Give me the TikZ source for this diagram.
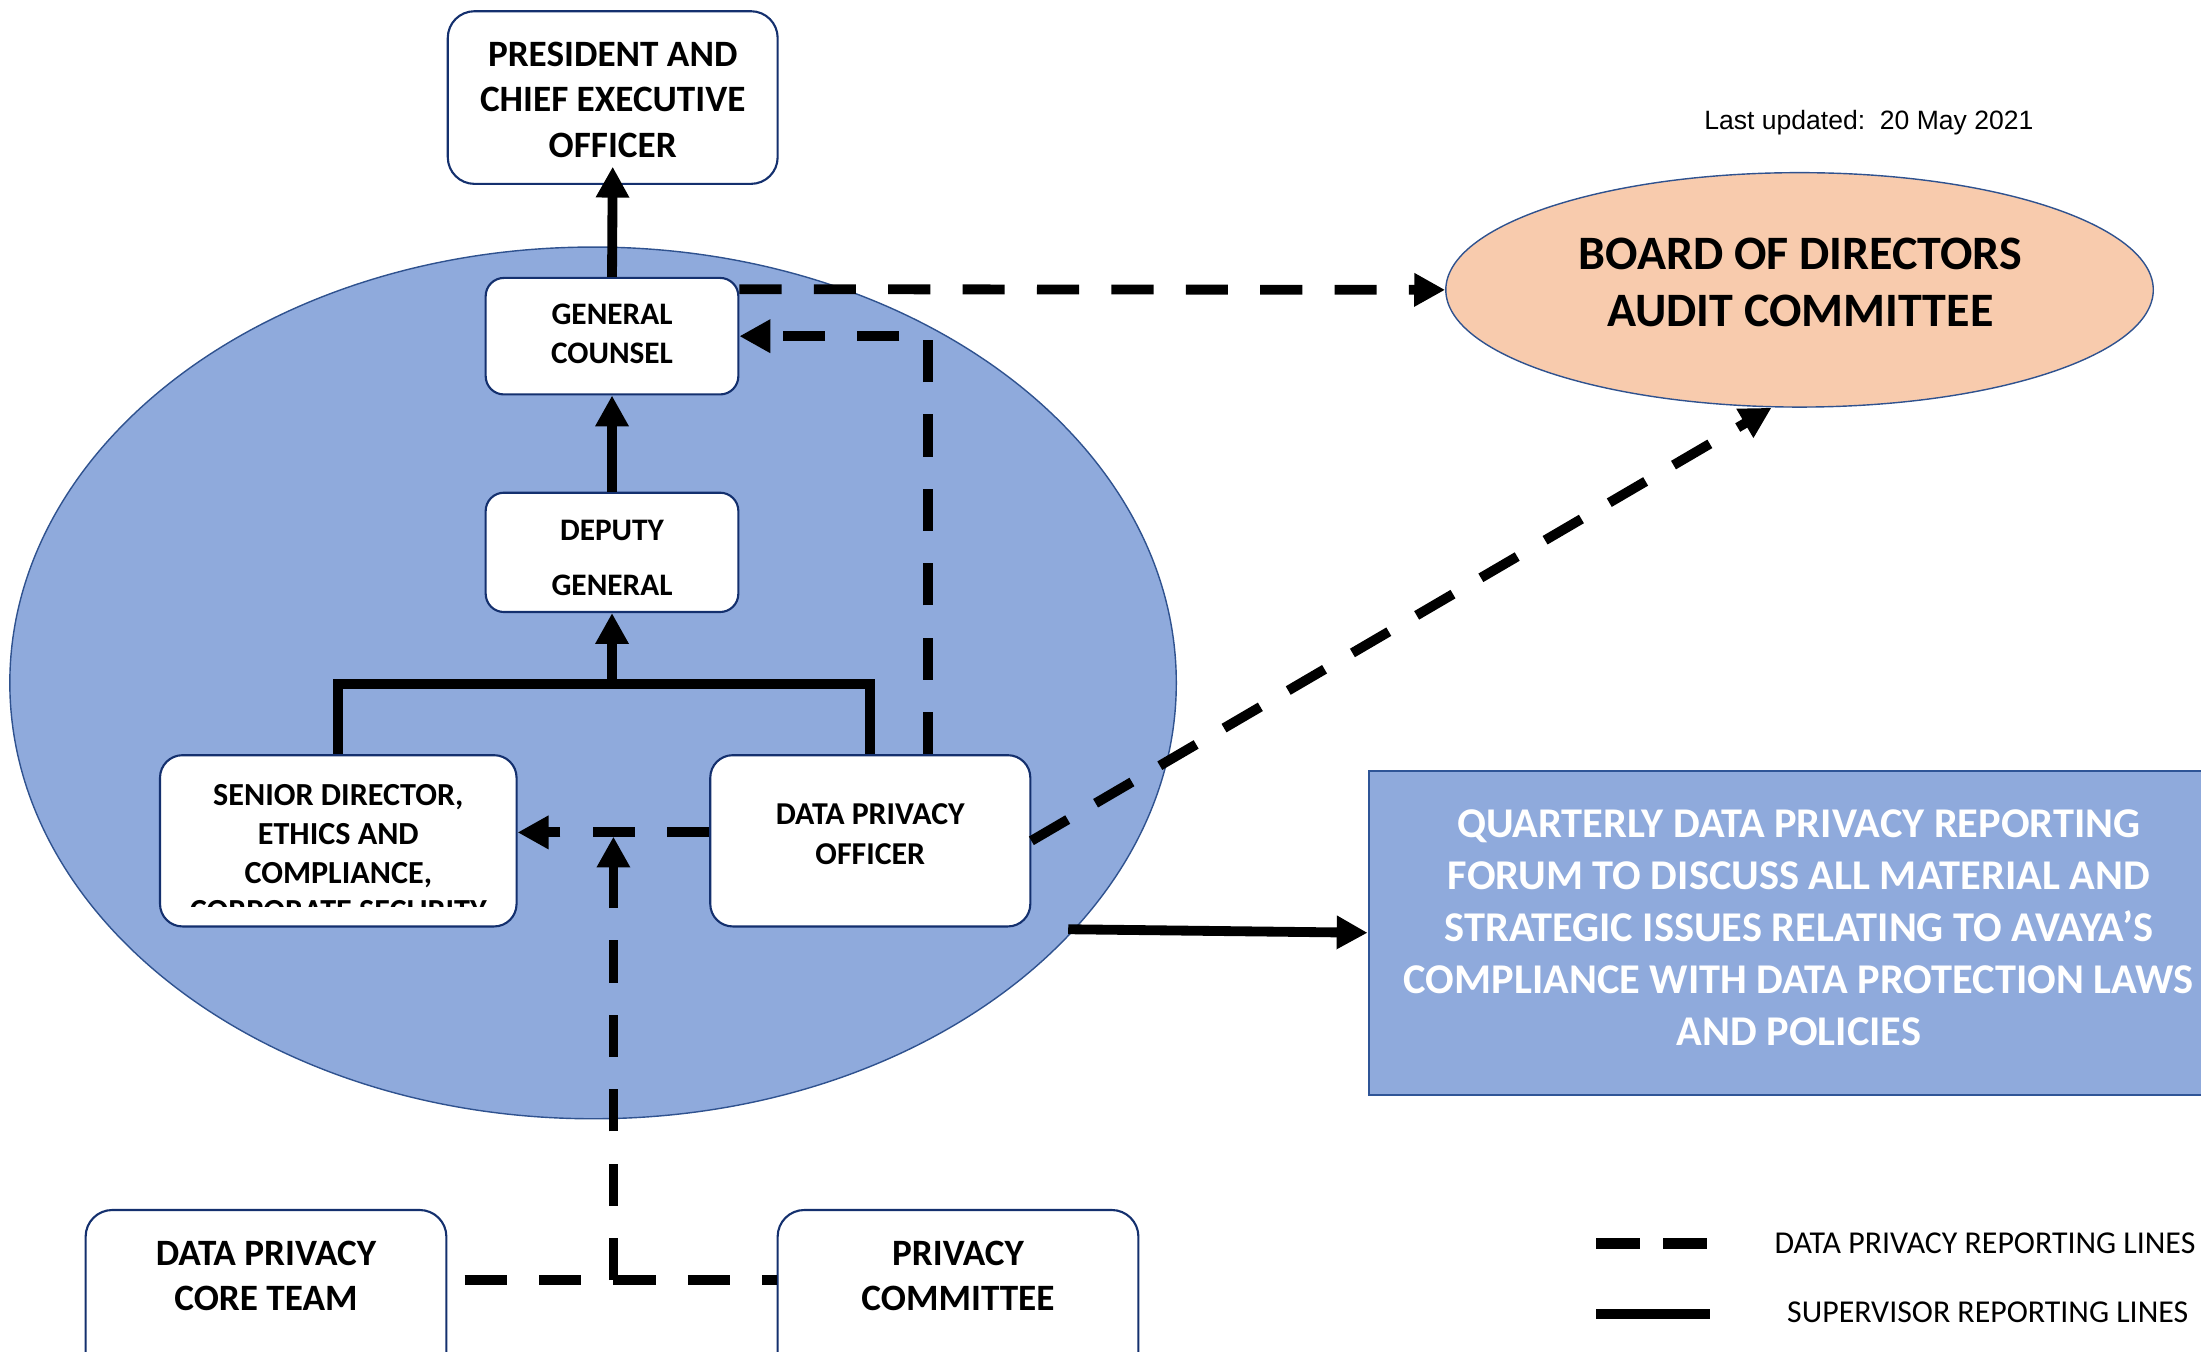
\documentclass[tikz,border=0pt]{standalone}
\usepackage{fontspec}
\setmainfont{Carlito}
\newfontfamily\arialfont{Liberation Sans}
\usetikzlibrary{arrows.meta,shapes.geometric}
\definecolor{ellblue}{HTML}{8FAADC}
\definecolor{ellborder}{HTML}{2F528F}
\definecolor{boxborder}{HTML}{14306E}
\definecolor{boardfill}{HTML}{F8CBAD}
\definecolor{qborder}{HTML}{2F5597}
\begin{document}
\begin{tikzpicture}[x=1pt,y=-1pt,
  orgbox/.style={draw=boxborder, line width=1.5pt, fill=white, rounded corners=16pt, inner sep=0pt},
  txt/.style={inner sep=0pt, align=center, text=black},
  fbig/.style={font=\bfseries\fontsize{26.5}{32.5}\selectfont},
  fmid/.style={font=\bfseries\fontsize{22.7}{28.5}\selectfont},
  fsmall/.style={font=\bfseries\fontsize{22.3}{28}\selectfont},
  solidarrow/.style={line width=7pt, -{Triangle[length=22pt,width=22.5pt]}},
  solidline/.style={line width=7pt},
  dashline/.style={line width=7pt, dash pattern=on 30pt off 23pt},
  dasharrow/.style={line width=7pt, dash pattern=on 30pt off 23pt, -{Triangle[length=22pt,width=22.5pt]}}
]
\useasboundingbox (0,0) rectangle (1568,963);
\clip (0,0) rectangle (1568,963);

% big ellipse
\node[draw=ellborder, line width=1pt, fill=ellblue, ellipse, minimum width=831pt, minimum height=621pt, inner sep=0pt] (ell) at (422.5,486.5) {};

% board ellipse
\node[draw=ellborder, line width=1pt, fill=boardfill, ellipse, minimum width=504pt, minimum height=167pt, inner sep=0pt] (board) at (1282,206.5) {};
\node[txt, font=\bfseries\fontsize{34.2}{40.5}\selectfont] (boardt) at (1282.5,201.5) {BOARD OF DIRECTORS\\AUDIT COMMITTEE};

% quarterly box
\node[draw=qborder, line width=1.5pt, fill=ellblue, rectangle, minimum width=614pt, minimum height=231pt, inner sep=0pt] (q) at (1282,664.5) {};
\node[txt, text=white, font=\bfseries\fontsize{30.2}{37}\selectfont] (qt) at (1281.5,661) {QUARTERLY DATA PRIVACY REPORTING\\FORUM TO DISCUSS ALL MATERIAL AND\\STRATEGIC ISSUES RELATING TO AVAYA’S\\COMPLIANCE WITH DATA PROTECTION LAWS\\AND POLICIES};

% last updated
\node[inner sep=0pt, anchor=base west, font=\arialfont\fontsize{18.9}{22}\selectfont] (upd) at (1214,92) {Last updated:\ \ 20 May 2021};

% boxes
\node[orgbox, rounded corners=19pt, minimum width=235pt, minimum height=123pt] (pres) at (436.5,69.5) {};
\node[txt, fbig] (prest) at (436.5,71) {PRESIDENT AND\\CHIEF EXECUTIVE\\OFFICER};

\node[orgbox, rounded corners=13pt, minimum width=180pt, minimum height=83pt] (gc) at (436,239.5) {};
\node[txt, fsmall] (gct) at (436,238) {GENERAL\\COUNSEL};

\node[orgbox, rounded corners=13pt, minimum width=180pt, minimum height=85pt] (dep) at (436,393.5) {};
\node[txt, font=\bfseries\fontsize{22.3}{39}\selectfont] (dept) at (436,397.5) {DEPUTY\\GENERAL};

\node[orgbox, minimum width=254pt, minimum height=122pt] (sd) at (241,599) {};
\begin{scope}
\clip (116,540) rectangle (366,646);
\node[txt, font=\bfseries\fontsize{22.9}{27.5}\selectfont] (sdt) at (241,608) {SENIOR DIRECTOR,\\ETHICS AND\\COMPLIANCE,\\CORPORATE SECURITY};
\end{scope}

\node[orgbox, minimum width=228pt, minimum height=122pt] (dpo) at (620,599) {};
\node[txt, fmid] (dpot) at (620,594.5) {DATA PRIVACY\\OFFICER};

\node[orgbox, rounded corners=19pt, minimum width=257pt, minimum height=130pt] (ct) at (189.5,927) {};
\node[txt, fbig] (ctt) at (189.5,909) {DATA PRIVACY\\CORE TEAM};

\node[orgbox, rounded corners=19pt, minimum width=257pt, minimum height=130pt] (pc) at (682.5,927) {};
\node[txt, fbig] (pct) at (682.5,909) {PRIVACY\\COMMITTEE};

% supervisor lines
\draw[solidarrow] (gc.north) -- ([yshift=13pt]pres.south);
\draw[solidarrow] (dep.north) -- (gc.south);
\coordinate (tj) at (436,487);
\draw[solidline] (sd.north) |- (tj) -| (dpo.north);
\draw[solidarrow] (tj) -- (dep.south);
\coordinate (qs) at (761,662);
\draw[solidarrow] (qs) -- (q.west);

% data privacy lines
\draw[dasharrow] ([yshift=33.5pt]gc.east) -- (board.west);
\draw[dasharrow] ([xshift=41pt]dpo.north) |- (gc.east);
\draw[dasharrow] (dpo.east) -- ([xshift=-20pt]board.south);
\draw[dasharrow] ([yshift=6pt]dpo.west) -- ([yshift=6pt]sd.east);
\coordinate (j) at (437,912);
\coordinate (vt) at (437,596);
\coordinate (cts) at (331,912);
\draw[dasharrow] (j) -- (vt);
\draw[dashline] (j) -- (j -| pc.west);
\draw[dashline] (cts) -- (j);

% legend
\coordinate (l1a) at (1137,886);
\coordinate (l1b) at (1217,886);
\coordinate (l2a) at (1137,936);
\coordinate (l2b) at (1218,936);
\draw[line width=7.5pt, dash pattern=on 31pt off 17pt] (l1a) -- (l1b);
\draw[line width=7.5pt] (l2a) -- (l2b);
\node[inner sep=0pt, anchor=west, font=\fontsize{22.7}{26}\selectfont] (leg1) at (1264,886) {DATA PRIVACY REPORTING LINES};
\node[inner sep=0pt, anchor=west, font=\fontsize{22.7}{26}\selectfont] (leg2) at (1273,935) {SUPERVISOR REPORTING LINES};
\end{tikzpicture}
\end{document}
